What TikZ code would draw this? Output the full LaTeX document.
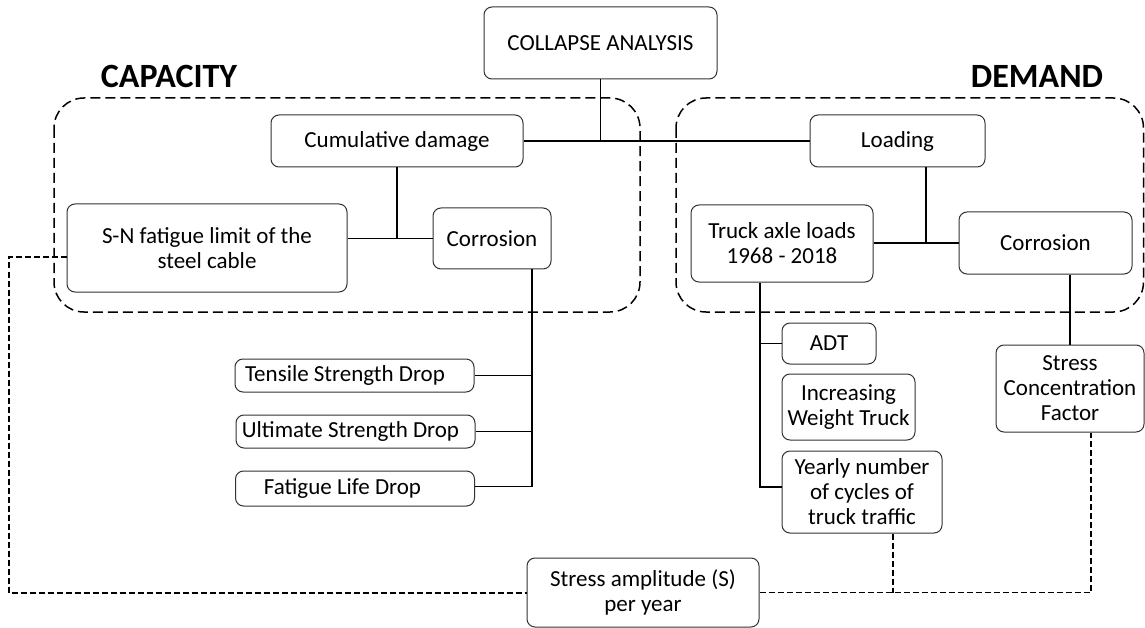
\documentclass[tikz,border=0pt]{standalone}
\usepackage{fontspec}
\setmainfont{Carlito}
\usetikzlibrary{calc}
\newcommand{\myfs}{\fontsize{23}{25}\selectfont}
\newcommand{\mybig}{\fontsize{34}{40}\selectfont\bfseries}
\begin{document}
\begin{tikzpicture}[x=1pt,y=-1pt,
  bbase/.style={draw=black!80, line width=1pt, rounded corners=8pt, inner sep=0pt, font=\myfs},
  box/.style={bbase, align=center},
  sbox/.style={bbase, minimum width=239, minimum height=33},
  conn/.style={line width=1.6pt, black},
  dl/.style={line width=1.4pt, black, dash pattern=on 6pt off 3pt},
  cont/.style={line width=1.5pt, black, dash pattern=on 10pt off 5pt, rounded corners=30pt},
  lbl/.style={font=\mybig, anchor=base, inner sep=0pt}]
\useasboundingbox (0,0) rectangle (1145,628);
\fill[white] (0,0) rectangle (1145,628);
% containers
\draw[cont] (54,98) rectangle (640,312);
\draw[cont] (676,98) rectangle (1143.5,312);
\node[lbl] (capl) at (169,88) {CAPACITY};
\node[lbl] (deml) at (1037,88) {DEMAND};
% nodes
\node[box, minimum width=233, minimum height=72] (col) at (600.5,43) {COLLAPSE ANALYSIS};
\node[box, minimum width=252, minimum height=52] (cum) at (397,141) {Cumulative damage};
\node[box, minimum width=175, minimum height=52] (load) at (897.5,141) {Loading};
\node[box, minimum width=280, minimum height=88] (sn) at (207,248) {S-N fatigue limit of the\\steel cable};
\node[box, minimum width=118, minimum height=61] (cor1) at (492,238.5) {Corrosion};
\node[box, minimum width=182, minimum height=77] (truck) at (782,243.5) {Truck axle loads\\1968 - 2018};
\node[box, minimum width=173, minimum height=62] (cor2) at (1045.5,243) {Corrosion};
\node[box, minimum width=94, minimum height=41] (adt) at (829,343.5) {ADT};
\node[box, minimum width=133, minimum height=66] (inc) at (848.5,407) {Increasing\\Weight Truck};
\node[box, minimum width=160, minimum height=82] (yr) at (862,492) {Yearly number\\of cycles of\\truck traffic};
\node[box, minimum width=148, minimum height=87] (scf) at (1070,388.5) {Stress\\Concentration\\Factor};
\node[box, minimum width=232, minimum height=69] (sa) at (643,592.5) {Stress amplitude (S)\\per year};
\node[sbox] (ten) at (354.5,375.5) {Tensile Strength Drop\hspace*{19pt}};
\node[sbox] (ult) at (355.5,431.5) {Ultimate Strength Drop\hspace*{10pt}};
\node[sbox, minimum height=35] (fat) at (355,488.5) {\raisebox{-3pt}{Fatigue Life Drop}\hspace*{25pt}};
% top connectors
\draw[conn] (col.south) -- (col.south |- cum.east);
\draw[conn] (cum.east) -- (load.west);
% capacity tree
\draw[conn] (cum.south) -- (cum.south |- cor1.west);
\draw[conn] (sn.east |- cor1.west) -- (cor1.west);
\coordinate (ct) at ($(cor1.south)+(40,0)$);
\draw[conn] (ct) |- ($(fat.east)+(0,-2)$);
\draw[conn] (ten.east) -- (ten.east -| ct);
\draw[conn] (ult.east) -- (ult.east -| ct);
% demand tree
\coordinate (lt) at ($(load.south)+(28.5,0)$);
\draw[conn] (lt) -- (lt |- cor2.west);
\draw[conn] (truck.east |- cor2.west) -- (cor2.west);
\coordinate (tt) at ($(truck.south)+(-22,0)$);
\draw[conn] (tt) |- ($(yr.west)+(0,-5)$);
\draw[conn] (adt.west) -- (adt.west -| tt);
\draw[conn] ($(inc.west)+(0,-4)$) -- ($(inc.west)+(0,-4)$ -| tt);
\draw[conn] (scf.north) -- (scf.north |- cor2.south);
% dashed connectors
\coordinate (snd) at ($(sn.west)+(0,9)$);
\coordinate (lc) at (9,593);
\draw[dl] (snd) -| (lc) -- (sa.west |- lc);
\coordinate (yd) at ($(yr.south)+(31,0)$);
\draw[dl] (yd) -- (yd |- sa.east);
\coordinate (sd) at ($(scf.south)+(21,0)$);
\draw[dl] (sa.east) -| (sd);
\end{tikzpicture}
\end{document}
